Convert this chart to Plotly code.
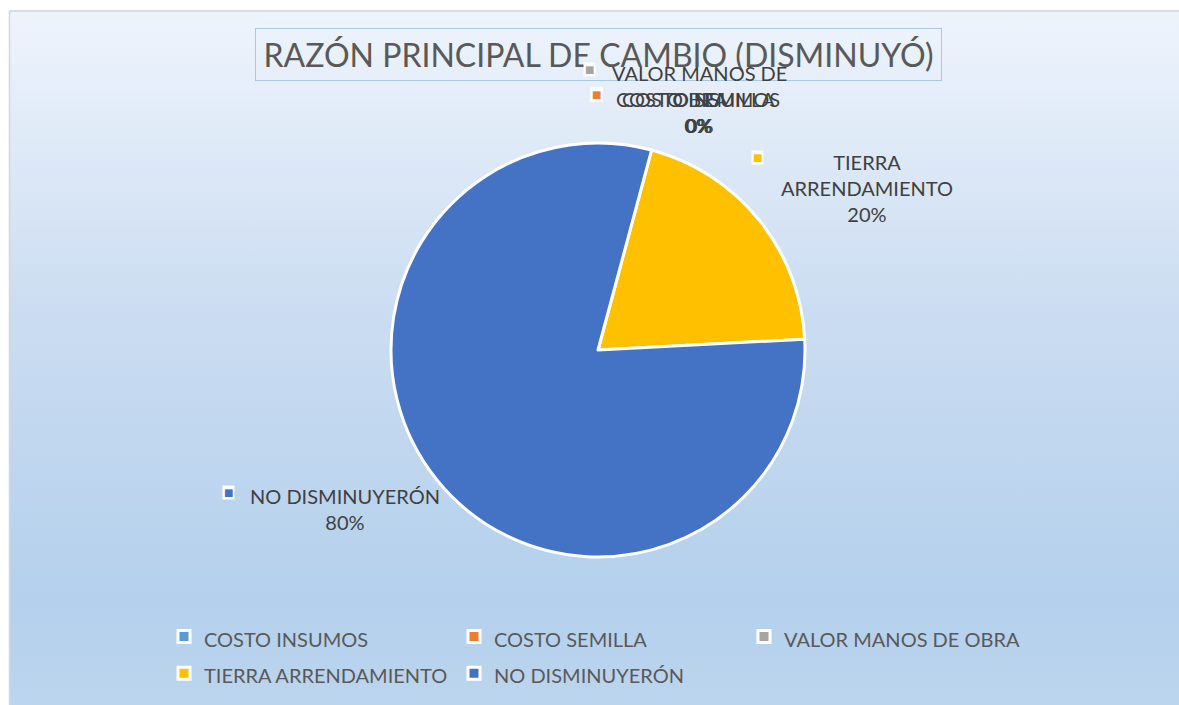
import base64
import plotly.graph_objects as go

# ---- data ----
categories = ["COSTO INSUMOS", "COSTO SEMILLA", "VALOR MANOS DE OBRA",
              "TIERRA ARRENDAMIENTO", "NO DISMINUYERÓN"]
values = [0, 0, 0, 20, 80]
colors = ["#5B9BD5", "#ED7D31", "#A5A5A5", "#FFC000", "#4472C4"]
title_text = "RAZÓN PRINCIPAL DE CAMBIO (DISMINUYÓ)"

W, H = 1179, 705
ML, MR = 0, 179
PW = W - ML - MR


def px(x):
    return (x - ML) / PW


def py(y):
    return (H - y) / H


total = sum(values)
pct = [f"{round(100 * v / total)}%" for v in values]
# legend text drawn at 20px inside a taller (26px) legend row
legend_labels = [f"<span style='font-size:20px'>{c}</span>" for c in categories]

fig = go.Figure()
fig.add_trace(go.Pie(
    labels=legend_labels,
    values=values,
    sort=False,
    direction="clockwise",
    rotation=15,
    marker=dict(colors=colors, line=dict(color="white", width=3)),
    textinfo="none",
    hoverinfo="skip",
    showlegend=True,
    domain=dict(x=[px(598 - 207), px(598 + 207)], y=[py(557), py(143)]),
))

# background gradient
svg = ('<svg xmlns="http://www.w3.org/2000/svg" width="1169" height="695" preserveAspectRatio="none">'
       '<defs><linearGradient id="g" x1="0" y1="0" x2="0" y2="1">'
       '<stop offset="0" stop-color="#eef4fc"/>'
       '<stop offset="0.45" stop-color="#cadcf1"/>'
       '<stop offset="0.85" stop-color="#b4d0ec"/>'
       '<stop offset="1" stop-color="#bcd5ee"/>'
       '</linearGradient></defs>'
       '<rect x="0" y="0" width="1169" height="695" fill="url(#g)"/></svg>')
src = "data:image/svg+xml;base64," + base64.b64encode(svg.encode()).decode()

FONT = "Lato, 'Liberation Sans', Arial, sans-serif"
LBL = "#404040"

annotations = []
# title in a box
annotations.append(dict(
    text=title_text, x=px(598.5), y=py(54.5), xref="paper", yref="paper",
    xanchor="center", yanchor="middle", showarrow=False,
    font=dict(family=FONT, size=32, color="#595959"),
    bordercolor="#a9c8e6", borderwidth=1, borderpad=0, width=685, height=51,
))


def marker(x, y, color):
    annotations.append(dict(
        text="■", x=px(x), y=py(y), xref="paper", yref="paper",
        xanchor="center", yanchor="middle", showarrow=False,
        font=dict(family="DejaVu Sans", size=10, color=color),
        bgcolor="white", borderpad=1,
    ))


def label(x, y, txt):
    annotations.append(dict(
        text=txt, x=px(x), y=py(y), xref="paper", yref="paper",
        xanchor="center", yanchor="middle", showarrow=False, align="center",
        font=dict(family=FONT, size=20, color=LBL),
    ))


# zero-value labels overlapping near the top
marker(596, 95, colors[0])
label(698, 112, f"{categories[0]}<br>{pct[0]}")
marker(596, 95, colors[1])
label(698, 112, f"{categories[1]}<br>{pct[1]}")
marker(589, 69, colors[2])
label(699, 99, "VALOR MANOS DE<br>OBRA<br>" + pct[2])
# tierra
marker(757, 157, colors[3])
label(867, 188, "TIERRA<br>ARRENDAMIENTO<br>" + pct[3])
# no disminuyeron
marker(228, 492, colors[4])
label(345, 509, f"{categories[4]}<br>{pct[4]}")

fig.update_layout(
    width=W, height=H,
    margin=dict(l=ML, r=MR, t=0, b=0),
    paper_bgcolor="white",
    plot_bgcolor="rgba(0,0,0,0)",
    images=[dict(source=src, xref="paper", yref="paper", x=px(10), y=py(10),
                 sizex=1169 / PW, sizey=695 / H, sizing="stretch",
                 xanchor="left", yanchor="top", layer="below")],
    shapes=[dict(type="rect", xref="paper", yref="paper", x0=px(9.5), y0=py(W),
                 x1=px(1200), y1=py(11), line=dict(color="#d3d6da", width=1.5),
                 fillcolor="rgba(0,0,0,0)", layer="above")],
    annotations=annotations,
    legend=dict(orientation="h", x=px(164), y=py(613), xanchor="left", yanchor="top",
                font=dict(family=FONT, size=26, color="#595959"),
                entrywidth=245, entrywidthmode="pixels", valign="middle",
                bgcolor="rgba(0,0,0,0)", traceorder="normal"),
    hovermode=False,
)

fig.write_html("out.html", config={"displayModeBar": False},
               post_script="document.body.style.margin='0';document.body.style.overflow='hidden';")
